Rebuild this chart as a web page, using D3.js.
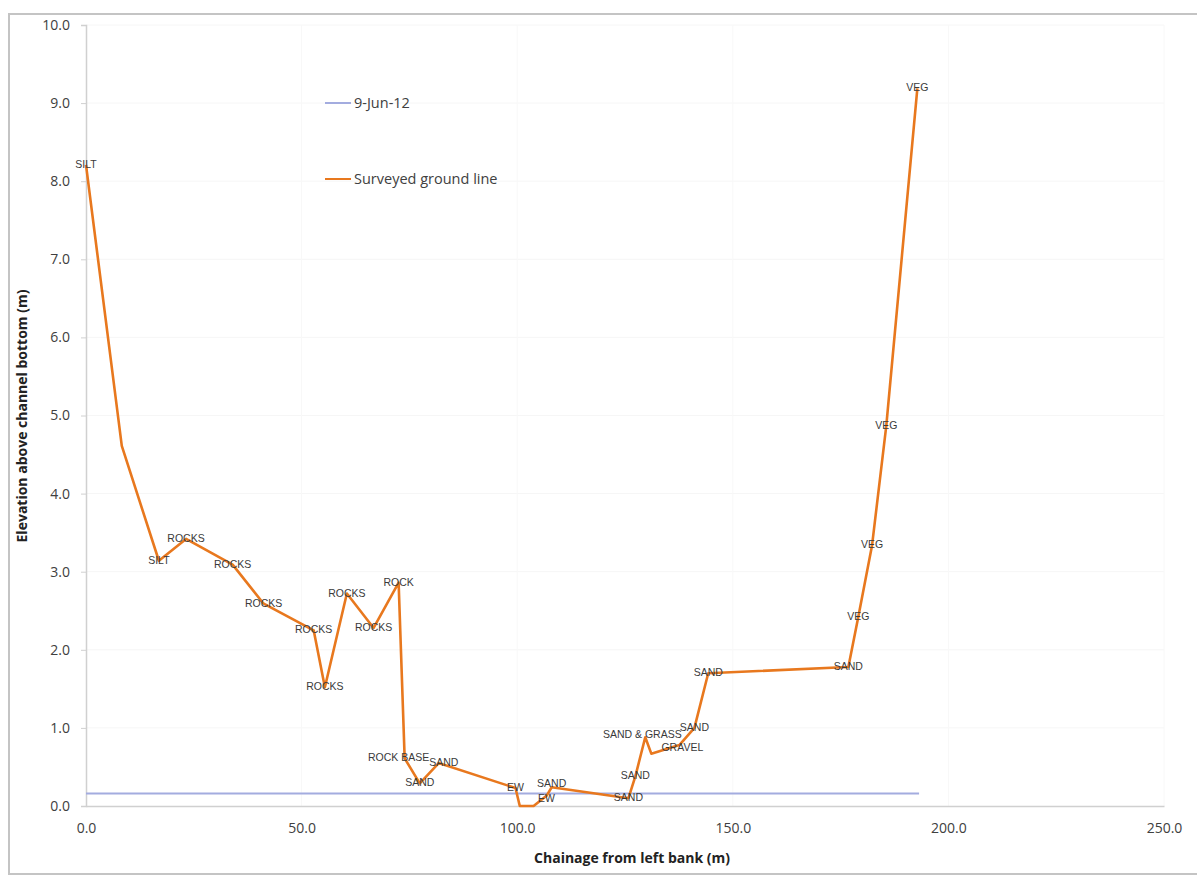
<!DOCTYPE html>
<html>
<head>
<meta charset="utf-8">
<script src="https://cdn.jsdelivr.net/npm/d3@7"></script>
<style>
  html, body { margin: 0; padding: 0; background: #fff; }
  svg { display: block; }
</style>
</head>
<body>
<svg id="chart" width="1197" height="877"></svg>
<script>
// ---- data ----
const chainage = [0.0, 8.3, 16.9, 23.2, 34.0, 41.2, 52.8, 55.4, 60.5, 66.7, 72.5, 73.9, 77.4, 81.8, 99.6, 100.6, 103.8, 106.8, 108.0, 125.8, 127.4, 129.7, 131.1, 137.6, 141.1, 144.3, 176.8, 179.1, 182.3, 185.6, 192.8];
const elevation = [8.21, 4.61, 3.14, 3.42, 3.09, 2.59, 2.25, 1.52, 2.72, 2.28, 2.86, 0.61, 0.29, 0.55, 0.23, 0.00, 0.00, 0.13, 0.24, 0.10, 0.38, 0.88, 0.67, 0.78, 1.00, 1.70, 1.78, 2.42, 3.34, 4.87, 9.19];
const material = ["SILT", "", "SILT", "ROCKS", "ROCKS", "ROCKS", "ROCKS", "ROCKS", "ROCKS", "ROCKS", "ROCK", "ROCK BASE", "SAND", "SAND", "EW", "", "", "EW", "SAND", "SAND", "SAND", "SAND & GRASS", "", "GRAVEL", "SAND", "SAND", "SAND", "VEG", "VEG", "VEG", "VEG"];
const waterChainage = [0.0, 193.2];
const waterLevel = [0.16, 0.16];
const seriesNames = ["9-Jun-12", "Surveyed ground line"];
const xTicks = [0, 50, 100, 150, 200, 250];
const yTicks = [0, 1, 2, 3, 4, 5, 6, 7, 8, 9, 10];
const xTitle = "Chainage from left bank (m)";
const yTitle = "Elevation above channel bottom (m)";

(function () {
// ---- layout ----
const svg = d3.select("#chart");
const pL = 86, pR = 1164, pT = 25, pB = 806;
const x = d3.scaleLinear().domain([0, 250]).range([pL, pR]);
const y = d3.scaleLinear().domain([0, 10]).range([pB, pT]);
const textCol = "#404040";
const font = "'Open Sans', 'Liberation Sans', sans-serif";
// small label nudges (pixels) keyed by point index, to keep crowded labels legible
const nudge = {11: [-6, 0], 13: [5, 0], 17: [0, 3], 18: [0, -3], 21: [-3, -2], 23: [3, 3]};

// outer frame
svg.append("rect").attr("x", 9).attr("y", 14).attr("width", 1200).attr("height", 860)
  .attr("fill", "none").attr("stroke", "#c4c4c4").attr("stroke-width", 2);

// very faint gridlines
svg.append("g").selectAll("line").data(yTicks.slice(1)).join("line")
  .attr("x1", pL).attr("x2", pR).attr("y1", d => y(d)).attr("y2", d => y(d))
  .attr("stroke", "#f6f6f6").attr("stroke-width", 1);
svg.append("g").selectAll("line").data(xTicks.slice(1)).join("line")
  .attr("y1", pT).attr("y2", pB).attr("x1", d => x(d)).attr("x2", d => x(d))
  .attr("stroke", "#f8f8f8").attr("stroke-width", 1);

// axes
const xAxis = svg.append("g").attr("transform", `translate(0,${pB})`)
  .call(d3.axisBottom(x).tickValues(xTicks).tickFormat(d3.format(".1f")).tickSize(0).tickPadding(17));
const yAxis = svg.append("g").attr("transform", `translate(${pL},0)`)
  .call(d3.axisLeft(y).tickValues(yTicks).tickFormat(d3.format(".1f")).tickSize(5).tickPadding(11));
[xAxis, yAxis].forEach(g => {
  g.select(".domain").attr("stroke", "#d0d0d0").attr("stroke-width", 1.5);
  g.selectAll(".tick line").attr("stroke", "#d0d0d0");
  g.selectAll(".tick text").attr("fill", textCol).attr("font-family", font).attr("font-size", 14);
});

// axis titles
svg.append("text").attr("x", 632).attr("y", 863).attr("text-anchor", "middle")
  .attr("font-family", font).attr("font-weight", "bold").attr("font-size", 14).attr("fill", "#222")
  .text(xTitle);
svg.append("text").attr("transform", "translate(27,416) rotate(-90)").attr("text-anchor", "middle")
  .attr("font-family", font).attr("font-weight", "bold").attr("font-size", 14).attr("fill", "#222")
  .text(yTitle);

// water line
const water = waterChainage.map((c, i) => ({x: c, y: waterLevel[i]}));
svg.append("path").datum(water)
  .attr("d", d3.line().x(d => x(d.x)).y(d => y(d.y)))
  .attr("fill", "none").attr("stroke", "#a3acdf").attr("stroke-width", 2);

// ground line
const ground = chainage.map((c, i) => ({x: c, y: elevation[i], lab: material[i], i}));
svg.append("path").datum(ground)
  .attr("d", d3.line().x(d => x(d.x)).y(d => y(d.y)))
  .attr("fill", "none").attr("stroke", "#e8781e").attr("stroke-width", 2.6).attr("stroke-linejoin", "round");

// point labels
svg.append("g").selectAll("text").data(ground.filter(d => d.lab)).join("text")
  .attr("x", d => x(d.x) + (nudge[d.i] ? nudge[d.i][0] : 0))
  .attr("y", d => y(d.y) + 3 + (nudge[d.i] ? nudge[d.i][1] : 0))
  .attr("text-anchor", "middle").attr("font-family", "'Liberation Sans', sans-serif")
  .attr("font-size", 10.5).attr("fill", "#3a3a3a")
  .text(d => d.lab);

// legend
const legend = svg.append("g");
const legendColors = ["#a3acdf", "#e8781e"];
const legendY = [103, 179];
seriesNames.forEach((name, i) => {
  legend.append("line").attr("x1", 325).attr("x2", 351).attr("y1", legendY[i]).attr("y2", legendY[i])
    .attr("stroke", legendColors[i]).attr("stroke-width", 2);
  legend.append("text").attr("x", 354).attr("y", legendY[i] + 5)
    .attr("font-family", font).attr("font-size", 14.5).attr("fill", textCol).text(name);
});
})();
</script>
</body>
</html>
